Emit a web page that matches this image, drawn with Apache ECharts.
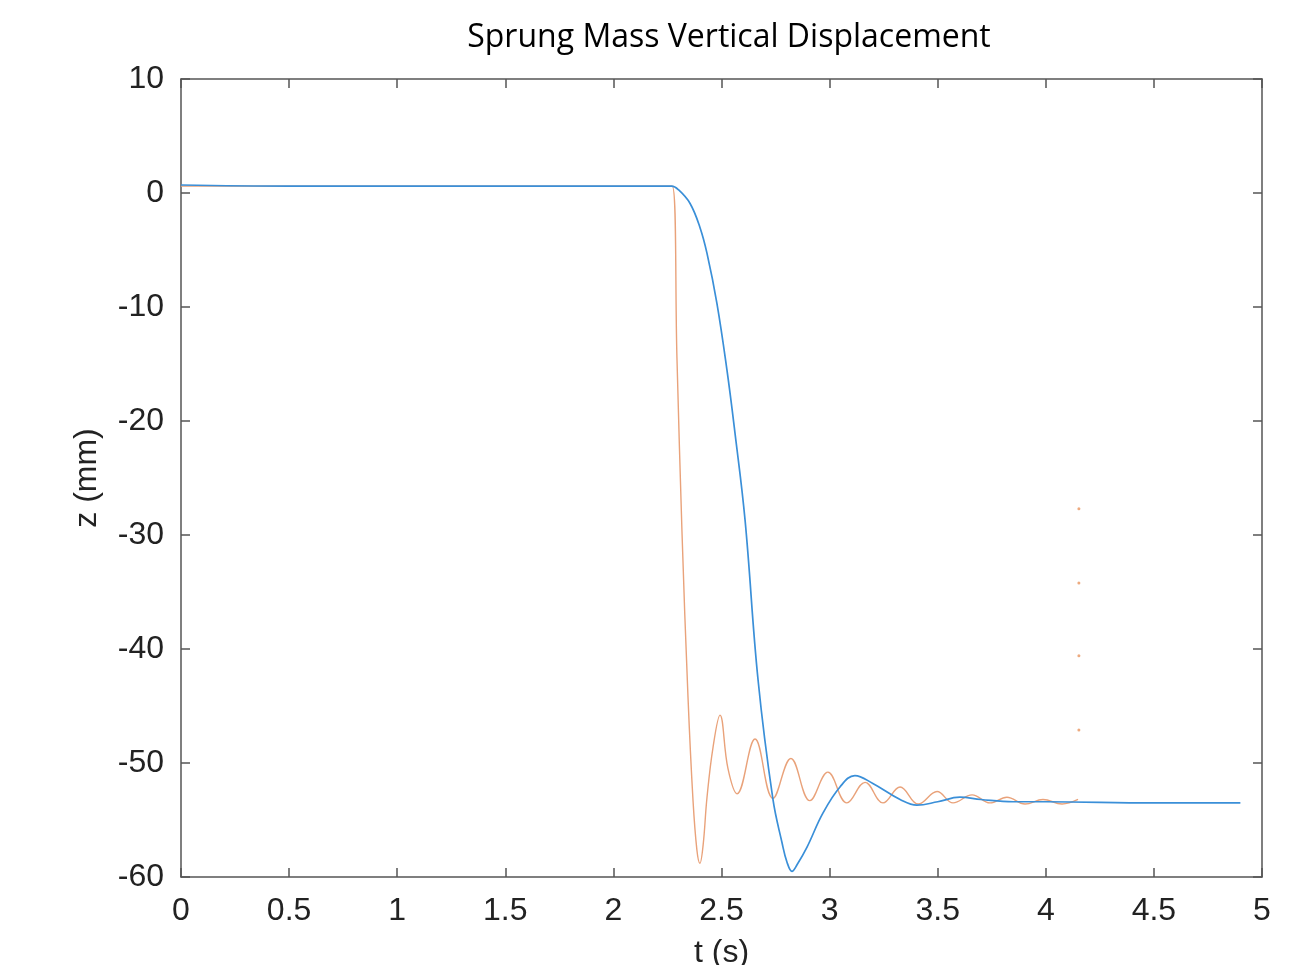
<!DOCTYPE html>
<html>
<head>
<meta charset="utf-8">
<script src="https://cdn.jsdelivr.net/npm/echarts@6/dist/echarts.min.js"></script>
<style>
html,body{margin:0;padding:0;background:#fff;}
#chart{width:1297px;height:965px;}
</style>
</head>
<body>
<div id="chart"></div>
<script>
var titleText = 'Sprung Mass Vertical Displacement';
var xLabel = 't (s)';
var yLabel = 'z (mm)';

var blueT = [0, 0.5, 1.0, 1.5, 2.0, 2.2, 2.27, 2.30, 2.354, 2.40, 2.433, 2.479, 2.525, 2.562, 2.609, 2.669, 2.738, 2.78, 2.803, 2.826, 2.85, 2.895, 2.969, 3.048, 3.117, 3.2, 3.326, 3.404, 3.5, 3.603, 3.7, 3.85, 4.0, 4.5, 4.9];
var blueZ = [0.7, 0.6, 0.6, 0.6, 0.6, 0.6, 0.6, 0.3, -0.9, -3.0, -5.3, -9.7, -15.5, -21.0, -28.7, -42.7, -53.2, -57.0, -58.7, -59.5, -58.9, -57.4, -54.4, -52.1, -51.1, -51.8, -53.2, -53.7, -53.4, -53.0, -53.2, -53.4, -53.4, -53.5, -53.5];

var orangeT = [0, 1.0, 2.0, 2.272, 2.294, 2.317, 2.345, 2.368, 2.386, 2.40, 2.415, 2.433, 2.461, 2.493, 2.53, 2.572, 2.655, 2.738, 2.821, 2.909, 2.992, 3.08, 3.164, 3.247, 3.326, 3.41, 3.497, 3.571, 3.659, 3.742, 3.82, 3.904, 3.987, 4.075, 4.149];
var orangeZ = [0.6, 0.6, 0.6, 0.6, -14.5, -29.6, -44.2, -53.2, -57.6, -58.8, -57.2, -53.0, -48.6, -45.8, -50.5, -52.7, -47.9, -53.1, -49.6, -53.3, -50.8, -53.5, -51.7, -53.5, -52.1, -53.6, -52.5, -53.5, -52.8, -53.5, -53.0, -53.6, -53.2, -53.6, -53.2];

var dotT = [4.153, 4.153, 4.153, 4.153];
var dotZ = [-27.7, -34.2, -40.6, -47.1];

var xTicks = { min: 0, max: 5, interval: 0.5 };
var yTicks = { min: -60, max: 10, interval: 10 };

function pairs(a, b) { return a.map(function (v, i) { return [v, b[i]]; }); }

var chart = echarts.init(document.getElementById('chart'), null, { renderer: 'canvas' });
var axisColor = '#555555';
var labelFont = { color: '#222222', fontFamily: 'Liberation Sans, Arial', fontSize: 32 };
var axLine = { show: true, onZero: false, lineStyle: { color: axisColor, width: 1.5 } };
var axTick = { show: true, inside: true, length: 9, lineStyle: { color: axisColor, width: 1.5 } };

chart.setOption({
  animation: false,
  backgroundColor: '#ffffff',
  title: {
    text: titleText,
    left: 724, top: 17, textAlign: 'center',
    textStyle: { fontFamily: 'Open Sans', fontWeight: 'normal', fontSize: 32, color: '#000' }
  },
  grid: { left: 181, right: 35, top: 79, bottom: 88, containLabel: false, outerBoundsMode: 'none' },
  xAxis: [{
    type: 'value', min: xTicks.min, max: xTicks.max, interval: xTicks.interval,
    name: xLabel, nameLocation: 'middle', nameGap: 60,
    nameTextStyle: labelFont,
    axisLine: axLine, axisTick: axTick,
    axisLabel: Object.assign({ margin: 18 }, labelFont),
    splitLine: { show: false }
  }, {
    type: 'value', position: 'top', min: xTicks.min, max: xTicks.max, interval: xTicks.interval,
    axisLine: axLine, axisTick: axTick,
    axisLabel: { show: false }, splitLine: { show: false }
  }],
  yAxis: [{
    type: 'value', min: yTicks.min, max: yTicks.max, interval: yTicks.interval,
    name: yLabel, nameLocation: 'middle', nameGap: 78, nameRotate: 90,
    nameTextStyle: labelFont,
    axisLine: axLine, axisTick: axTick,
    axisLabel: Object.assign({ margin: 17 }, labelFont),
    splitLine: { show: false }
  }, {
    type: 'value', position: 'right', min: yTicks.min, max: yTicks.max, interval: yTicks.interval,
    axisLine: axLine, axisTick: axTick,
    axisLabel: { show: false }, splitLine: { show: false }
  }],
  series: [{
    type: 'line', data: pairs(orangeT, orangeZ), showSymbol: false, smooth: 0.4,
    lineStyle: { color: '#e9a27a', width: 1.4 }, itemStyle: { color: '#e9a27a' }
  }, {
    type: 'line', data: pairs(blueT, blueZ), showSymbol: false, smooth: 0.4,
    lineStyle: { color: '#3a8fd8', width: 1.7 }, itemStyle: { color: '#3a8fd8' }
  }, {
    type: 'scatter', data: pairs(dotT, dotZ), symbolSize: 3,
    itemStyle: { color: '#e8955f' }
  }]
});
</script>
</body>
</html>
